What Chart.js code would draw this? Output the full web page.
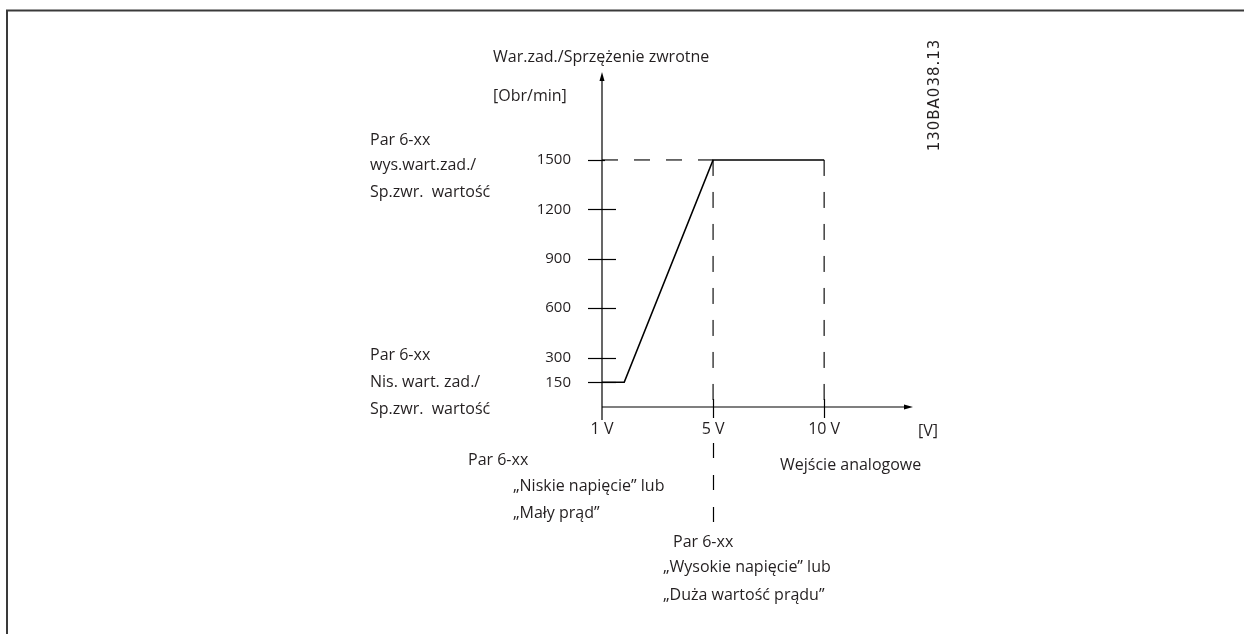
<!DOCTYPE html>
<html>
<head>
<meta charset="utf-8">
<title>Wejście analogowe – skalowanie</title>
<script src="https://cdn.jsdelivr.net/npm/chart.js@4.4.1/dist/chart.umd.min.js"></script>
<style>
  html, body { margin: 0; padding: 0; background: #fff; }
  #wrap { position: relative; width: 1244px; height: 634px; }
</style>
</head>
<body>
<div id="wrap"><canvas id="scaleChart"></canvas></div>
<script>
// Analog input (V) on x, reference/feedback speed (rpm) on y
const voltTicks = [1, 5, 10];
const voltLabels = ['1 V', '5 V', '10 V'];
const speedTicks = [150, 300, 600, 900, 1200, 1500];

// scaling curve: low ref held until ~1.8 V, ramp to 5 V, then clamped
const curveVolts = [1, 1.8, 5, 10];
const curveSpeed = [150, 150, 1500, 1500];

// helper lines for the high reference value
const highRefVolts = [1, 5];
const highRefSpeed = [1500, 1500];
const dropVolts = [5, 10];
const dropTop = 1500;

const INK = '#231f20';
const FONT = '"Open Sans", "Noto Sans", sans-serif';

// the voltage axis is drawn with evenly spaced ticks, so map volts piecewise
function voltPos(v) {
  for (let i = 1; i < voltTicks.length; i++) {
    if (v <= voltTicks[i] || i === voltTicks.length - 1) {
      const a = voltTicks[i - 1], b = voltTicks[i];
      return (i - 1) + (v - a) / (b - a);
    }
  }
  return 0;
}

const toPoints = (xs, ys) => xs.map((v, i) => ({ x: voltPos(v), y: ys[i] }));

const dashStyle = {
  borderColor: '#111',
  borderWidth: 1.2,
  borderDash: [16, 16],
  pointRadius: 0,
  fill: false,
  tension: 0
};

const datasets = [
  {
    label: 'Skalowanie',
    data: toPoints(curveVolts, curveSpeed),
    borderColor: '#000',
    borderWidth: 1.6,
    pointRadius: 0,
    fill: false,
    tension: 0
  },
  Object.assign({ label: 'wys', data: toPoints(highRefVolts, highRefSpeed) }, dashStyle)
];
dropVolts.forEach(v => {
  datasets.push(Object.assign({ label: 'v' + v, data: toPoints([v, v], [dropTop, 0]) }, dashStyle));
});

function text(ctx, str, x, y, font, align) {
  ctx.font = font;
  ctx.textAlign = align || 'left';
  ctx.fillText(str, x, y);
}

const diagramDecor = {
  id: 'diagramDecor',
  beforeDraw(chart) {
    const ctx = chart.ctx;
    ctx.save();
    ctx.strokeStyle = '#3a3a3a';
    ctx.lineWidth = 2;
    ctx.beginPath();
    ctx.moveTo(7, 634);
    ctx.lineTo(7, 10.5);
    ctx.lineTo(1244, 10.5);
    ctx.stroke();
    ctx.restore();
  },
  afterDraw(chart) {
    const { ctx, chartArea: ca, scales: { x, y } } = chart;
    ctx.save();
    ctx.strokeStyle = '#000';
    ctx.fillStyle = '#000';
    ctx.lineWidth = 1.2;

    // y axis with arrow
    ctx.beginPath();
    ctx.moveTo(ca.left, ca.top + 4);
    ctx.lineTo(ca.left, ca.bottom + 13);
    ctx.stroke();
    ctx.beginPath();
    ctx.moveTo(ca.left, ca.top);
    ctx.lineTo(ca.left - 2.5, ca.top + 9);
    ctx.lineTo(ca.left + 2.5, ca.top + 9);
    ctx.closePath();
    ctx.fill();

    // x axis with arrow
    ctx.beginPath();
    ctx.moveTo(ca.left, ca.bottom);
    ctx.lineTo(ca.right - 4, ca.bottom);
    ctx.stroke();
    ctx.beginPath();
    ctx.moveTo(ca.right, ca.bottom);
    ctx.lineTo(ca.right - 9, ca.bottom - 2.5);
    ctx.lineTo(ca.right - 9, ca.bottom + 2.5);
    ctx.closePath();
    ctx.fill();

    // tick marks crossing the y axis
    const top = Math.max(...speedTicks);
    speedTicks.forEach(t => {
      const py = Math.round(y.getPixelForValue(t)) + 0.5;
      ctx.beginPath();
      ctx.moveTo(ca.left - 14, py);
      ctx.lineTo(t === top ? ca.left + 3 : ca.left + 14, py);
      ctx.stroke();
    });

    // tick marks on the x axis
    voltTicks.forEach((v, i) => {
      if (i === 0) return;
      const px = Math.round(x.getPixelForValue(i)) + 0.5;
      ctx.beginPath();
      ctx.moveTo(px, ca.bottom - 8);
      ctx.lineTo(px, ca.bottom + 11);
      ctx.stroke();
    });

    // leader from 5 V down to the high-voltage parameter note
    const p5 = Math.round(x.getPixelForValue(voltPos(5))) + 0.5;
    ctx.setLineDash([15, 17]);
    ctx.beginPath();
    ctx.moveTo(p5, ca.bottom + 36);
    ctx.lineTo(p5, ca.bottom + 115);
    ctx.stroke();
    ctx.setLineDash([]);

    // labels
    ctx.fillStyle = INK;
    ctx.textBaseline = 'middle';
    const f16 = '16px ' + FONT;
    text(ctx, 'War.zad./Sprzężenie zwrotne', 493, 57, f16);
    text(ctx, '[Obr/min]', 493, 96, f16);

    text(ctx, 'Par 6-xx', 370, 140, f16);
    text(ctx, 'wys.wart.zad./', 370, 165, f16);
    text(ctx, 'Sp.zwr.  wartość', 370, 192, f16);

    text(ctx, 'Par 6-xx', 370, 355, f16);
    text(ctx, 'Nis. wart. zad./', 370, 382, f16);
    text(ctx, 'Sp.zwr.  wartość', 370, 409, f16);

    text(ctx, '[V]', 928, 431, f16, 'center');
    text(ctx, 'Wejście analogowe', 780, 465, f16);

    text(ctx, 'Par 6-xx', 468, 460, f16);
    text(ctx, '„Niskie napięcie” lub', 513, 486, f16);
    text(ctx, '„Mały prąd”', 513, 513, f16);

    text(ctx, 'Par 6-xx', 673, 542, f16);
    text(ctx, '„Wysokie napięcie” lub', 663, 567, f16);
    text(ctx, '„Duża wartość prądu”', 663, 595, f16);

    // drawing number, rotated
    ctx.translate(935, 95);
    ctx.rotate(-Math.PI / 2);
    ctx.letterSpacing = '1px';
    text(ctx, '130BA038.13', 0, 0, '15px "DejaVu Sans", sans-serif', 'center');
    ctx.restore();
  }
};

new Chart(document.getElementById('scaleChart'), {
  type: 'line',
  data: { datasets },
  plugins: [diagramDecor],
  options: {
    responsive: true,
    maintainAspectRatio: false,
    animation: false,
    layout: { padding: { left: 0, top: 72, right: 331, bottom: 187 } },
    plugins: { legend: { display: false }, tooltip: { enabled: false } },
    scales: {
      x: {
        type: 'linear',
        min: 0,
        max: 2.8,
        afterBuildTicks(scale) { scale.ticks = voltTicks.map((v, i) => ({ value: i })); },
        afterFit(scale) { scale.height = 40; },
        grid: { display: false, drawTicks: false },
        border: { display: false },
        ticks: {
          padding: 13,
          color: INK,
          font: { family: FONT, size: 16 },
          callback: (val, idx) => voltLabels[idx]
        }
      },
      y: {
        type: 'linear',
        min: 0,
        max: 2034,
        afterBuildTicks(scale) { scale.ticks = speedTicks.map(v => ({ value: v })); },
        afterFit(scale) { scale.width = 602; },
        grid: { display: false, drawTicks: false },
        border: { display: false },
        ticks: {
          padding: 31,
          color: INK,
          font: { family: FONT, size: 15 },
          callback: val => String(val)
        }
      }
    }
  }
});
</script>
</body>
</html>
